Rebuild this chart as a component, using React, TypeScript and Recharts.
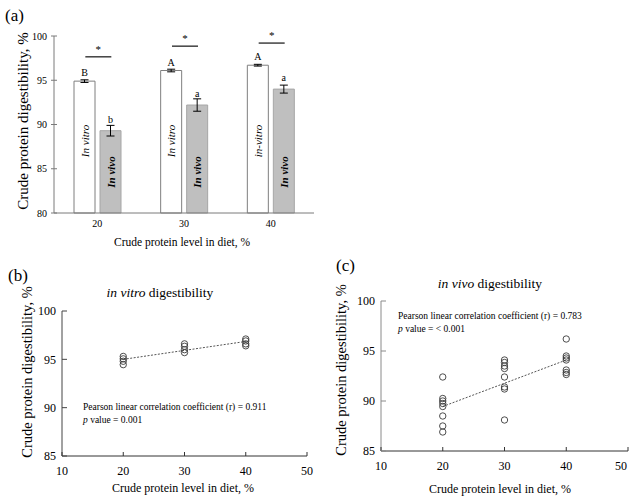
import {
  BarChart,
  Bar,
  XAxis,
  YAxis,
  ErrorBar,
  LabelList,
  ReferenceLine,
  ScatterChart,
  Scatter,
} from 'recharts'

const SERIF = '"Liberation Serif", "Times New Roman", serif'

// panel (a): mean digestibility per protein level
const categories = ['20', '30', '40']
const vitroMeans = [94.9, 96.1, 96.7]
const vivoMeans = [89.3, 92.2, 94.0]
const vitroErr = [0.15, 0.15, 0.1]
const vivoErr = [0.6, 0.7, 0.45]
const vitroLetters = ['B', 'A', 'A']
const vivoLetters = ['b', 'a', 'a']
const vitroInside = ['In vitro', 'In vitro', 'in-vitro']
const vivoInside = ['In vivo', 'In vivo', 'In vivo']
const sigLevels = [97.65, 98.85, 99.2]
const sigMarks = ['*', '*', '*']
const barTicks = [80, 85, 90, 95, 100]

// panels (b) and (c): individual observations
const levels = [20, 30, 40]
const vitroAt20 = [95.3, 95.05, 94.8, 94.45]
const vitroAt30 = [96.6, 96.35, 96.0, 95.7]
const vitroAt40 = [97.1, 96.9, 96.6, 96.4]
const vivoAt20 = [92.4, 90.25, 90.0, 89.75, 89.45, 88.5, 87.5, 86.9]
const vivoAt30 = [94.1, 93.85, 93.5, 93.25, 92.4, 91.4, 91.2, 88.1]
const vivoAt40 = [96.2, 94.5, 94.3, 94.1, 93.1, 92.85, 92.65]
const trendX = [20, 40]
const vitroTrendY = [95.0, 96.85]
const vivoTrendY = [89.45, 94.1]
const scatterXTicks = [10, 20, 30, 40, 50]
const scatterYTicks = [85, 90, 95, 100]

const barData = categories.map((level, i) => ({
  level,
  vitro: vitroMeans[i],
  vivo: vivoMeans[i],
  vitroErr: vitroErr[i],
  vivoErr: vivoErr[i],
  vitroLetter: vitroLetters[i],
  vivoLetter: vivoLetters[i],
  vitroInside: vitroInside[i],
  vivoInside: vivoInside[i],
}))

const toPoints = (groups: number[][]) =>
  groups.flatMap((ys, i) => ys.map((y) => ({ x: levels[i], y })))

const vitroPoints = toPoints([vitroAt20, vitroAt30, vitroAt40])
const vivoPoints = toPoints([vivoAt20, vivoAt30, vivoAt40])
const vitroTrend = trendX.map((x, i) => ({ x, y: vitroTrendY[i] }))
const vivoTrend = trendX.map((x, i) => ({ x, y: vivoTrendY[i] }))

function makeYTick(color: string, fontSize: number, left: number, right: number, gap: number) {
  return (props: any) => {
    const { x, y, payload } = props
    return (
      <g>
        <line x1={x - left} x2={x + right} y1={y} y2={y} stroke={color} />
        <text x={x - gap} y={y} dy="0.35em" textAnchor="end" fontSize={fontSize} fontFamily={SERIF} fill="#000">
          {payload.value}
        </text>
      </g>
    )
  }
}

function makeXTick(color: string, fontSize: number, up: number, gap: number, maxX = Infinity) {
  return (props: any) => {
    const { x, y, payload } = props
    return (
      <g>
        {up > 0 && <line x1={x} x2={x} y1={y - up} y2={y} stroke={color} />}
        <text x={Math.min(x, maxX)} y={y + gap} dy="0.35em" textAnchor="middle" fontSize={fontSize} fontFamily={SERIF} fill="#000">
          {payload.value}
        </text>
      </g>
    )
  }
}

function insideLabel(fromBottom: number, bold: boolean) {
  return (props: any) => {
    const { x, y, width, height, value } = props
    const cx = x + width / 2
    const cy = y + height - fromBottom
    return (
      <text
        x={cx}
        y={cy}
        transform={`rotate(-90 ${cx} ${cy})`}
        textAnchor="middle"
        dominantBaseline="central"
        fontSize={11}
        fontStyle="italic"
        fontWeight={bold ? 'bold' : 'normal'}
        fontFamily={SERIF}
        fill="#000"
      >
        {value}
      </text>
    )
  }
}

// bracket between the two bars of a group, with its significance mark
function sigBracket(mark: string) {
  return (props: any) => {
    const { x1, y1 } = props
    if (x1 == null || y1 == null) return <g />
    return (
      <g>
        <line x1={x1 - 12} x2={x1 + 14} y1={y1} y2={y1} stroke="#404040" strokeWidth={1.5} />
        <text x={x1 + 1} y={y1 - 4} textAnchor="middle" fontSize={11} fontFamily={SERIF} fill="#000">
          {mark}
        </text>
      </g>
    )
  }
}

const circle = (props: any) => (
  <circle cx={props.cx} cy={props.cy} r={3.2} fill="none" stroke="#3a3a3a" strokeWidth={0.9} />
)
const noShape = () => <g />

function DigestibilityBars() {
  return (
    <BarChart
      width={330}
      height={250}
      data={barData}
      margin={{ top: 36, right: 16, bottom: 7, left: 14 }}
      barSize={21}
      barGap={5}
    >
      <XAxis
        dataKey="level"
        stroke="#7a7a7a"
        tickSize={0}
        tickMargin={0}
        height={30}
        tick={makeXTick('#7a7a7a', 10, 0, 10)}
      />
      <YAxis
        domain={[80, 100]}
        ticks={barTicks}
        width={40}
        stroke="#7a7a7a"
        tickSize={0}
        tickMargin={0}
        tickLine={false}
        tick={makeYTick('#7a7a7a', 10, 3, 3, 7)}
        interval={0}
      />
      <Bar dataKey="vitro" fill="#ffffff" stroke="#7f7f7f" strokeWidth={1} isAnimationActive={false}>
        <ErrorBar dataKey="vitroErr" width={4} stroke="#000" strokeWidth={1} direction="y" />
        <LabelList dataKey="vitroLetter" position="top" offset={5} fontSize={10} fontFamily={SERIF} fill="#000" />
        <LabelList dataKey="vitroInside" content={insideLabel(72, false)} />
      </Bar>
      <Bar dataKey="vivo" fill="#bfbfbf" stroke="#a6a6a6" strokeWidth={1} isAnimationActive={false}>
        <ErrorBar dataKey="vivoErr" width={4} stroke="#000" strokeWidth={1} direction="y" />
        <LabelList dataKey="vivoLetter" position="top" offset={8} fontSize={10} fontFamily={SERIF} fill="#000" />
        <LabelList dataKey="vivoInside" content={insideLabel(41, true)} />
      </Bar>
      {categories.map((c, i) => (
        <ReferenceLine
          key={c}
          segment={[
            { x: c, y: sigLevels[i] },
            { x: c, y: sigLevels[i] },
          ]}
          shape={sigBracket(sigMarks[i])}
        />
      ))}
    </BarChart>
  )
}

function ObservationScatter({
  points,
  trend,
  width,
  margin,
  yAxisColor,
  maxTickX,
}: {
  points: { x: number; y: number }[]
  trend: { x: number; y: number }[]
  width: number
  margin: { top: number; right: number; bottom: number; left: number }
  yAxisColor: string
  maxTickX?: number
}) {
  return (
    <ScatterChart width={width} height={247} margin={margin}>
      <XAxis
        type="number"
        dataKey="x"
        domain={[10, 50]}
        ticks={scatterXTicks}
        interval={0}
        height={30}
        stroke="#333"
        tickSize={0}
        tickMargin={0}
        tick={makeXTick('#333', 12, 4, 15, maxTickX)}
      />
      <YAxis
        type="number"
        dataKey="y"
        domain={[85, 100]}
        ticks={scatterYTicks}
        interval={0}
        width={40}
        stroke={yAxisColor}
        tickSize={0}
        tickMargin={0}
        tick={makeYTick(yAxisColor, 12, 0, 5, 6)}
      />
      <Scatter
        data={trend}
        line={{ stroke: '#555', strokeWidth: 1, strokeDasharray: '2 1.5' }}
        shape={noShape}
        isAnimationActive={false}
      />
      <Scatter data={points} shape={circle} isAnimationActive={false} />
    </ScatterChart>
  )
}

const textStyle = { fontFamily: SERIF, fill: '#000' }

export default function App() {
  return (
    <div style={{ position: 'absolute', left: 0, top: 0, width: 629, height: 497, background: '#fff' }}>
      <div style={{ position: 'absolute', left: 0, top: 0 }}>
        <DigestibilityBars />
      </div>
      <div style={{ position: 'absolute', left: 0, top: 250 }}>
        <ObservationScatter
          points={vitroPoints}
          trend={vitroTrend}
          width={315}
          margin={{ top: 61, right: 8, bottom: 11, left: 22 }}
          yAxisColor="#444"
        />
      </div>
      <div style={{ position: 'absolute', left: 315, top: 250 }}>
        <ObservationScatter
          points={vivoPoints}
          trend={vivoTrend}
          width={314}
          margin={{ top: 51, right: 1, bottom: 16, left: 26 }}
          yAxisColor="#8a8a8a"
          maxTickX={306}
        />
      </div>
      <svg width={629} height={497} style={{ position: 'absolute', left: 0, top: 0, pointerEvents: 'none' }}>
        {/* panel (a) */}
        <text x={5} y={15} dy="0.35em" fontSize={17} {...textStyle}>(a)</text>
        <text x={23} y={121} dy="0.35em" fontSize={15} textAnchor="middle" transform="rotate(-90 23 121)" {...textStyle}>
          Crude protein digestibility, %
        </text>
        <text x={182} y={242} dy="0.35em" fontSize={11.5} textAnchor="middle" {...textStyle}>
          Crude protein level in diet, %
        </text>

        {/* panel (b) */}
        <text x={8} y={275} dy="0.35em" fontSize={17} {...textStyle}>(b)</text>
        <text x={160} y={292} dy="0.35em" fontSize={13.5} textAnchor="middle" {...textStyle}>
          <tspan fontStyle="italic">in vitro</tspan> digestibility
        </text>
        <text x={27} y={372} dy="0.35em" fontSize={14.5} textAnchor="middle" transform="rotate(-90 27 372)" {...textStyle}>
          Crude protein digestibility, %
        </text>
        <text x={183} y={488} dy="0.35em" fontSize={12} textAnchor="middle" {...textStyle}>
          Crude protein level in diet, %
        </text>
        <text x={83} y={407} dy="0.35em" fontSize={9.5} {...textStyle}>
          Pearson linear correlation coefficient (r) = 0.911
        </text>
        <text x={83} y={420} dy="0.35em" fontSize={9.5} {...textStyle}>
          <tspan fontStyle="italic">p</tspan> value = 0.001
        </text>

        {/* panel (c) */}
        <text x={336} y={265} dy="0.35em" fontSize={17} {...textStyle}>(c)</text>
        <text x={490} y={283} dy="0.35em" fontSize={13.5} textAnchor="middle" {...textStyle}>
          <tspan fontStyle="italic">in vivo</tspan> digestibility
        </text>
        <text x={341} y={370} dy="0.35em" fontSize={14.5} textAnchor="middle" transform="rotate(-90 341 370)" {...textStyle}>
          Crude protein digestibility, %
        </text>
        <text x={500} y={489} dy="0.35em" fontSize={12} textAnchor="middle" {...textStyle}>
          Crude protein level in diet, %
        </text>
        <text x={398} y={316} dy="0.35em" fontSize={9.5} {...textStyle}>
          Pearson linear correlation coefficient (r) = 0.783
        </text>
        <text x={398} y={329} dy="0.35em" fontSize={9.5} {...textStyle}>
          <tspan fontStyle="italic">p</tspan> value = &lt; 0.001
        </text>
      </svg>
    </div>
  )
}
